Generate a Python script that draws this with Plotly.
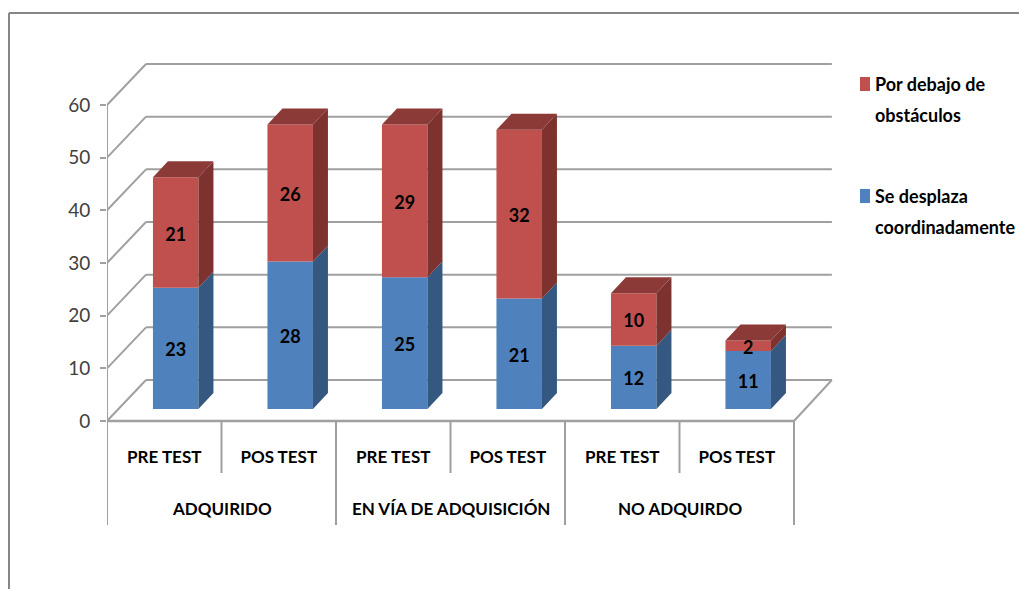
import plotly.graph_objects as go

# Werte
grupos = ["ADQUIRIDO", "EN VÍA DE ADQUISICIÓN", "NO ADQUIRDO"]
pruebas = ["PRE TEST", "POS TEST", "PRE TEST", "POS TEST", "PRE TEST", "POS TEST"]
series = ["Por debajo de<br>obstáculos", "Se desplaza<br>coordinadamente"]
desplaza = [23, 28, 25, 21, 12, 11]
debajo = [21, 26, 29, 32, 10, 2]
y_ticks = [0, 10, 20, 30, 40, 50, 60]

# Pixel-Geometrie, die Seite hat 8 px Rand (body margin)
OFF = 8
W, H = 1027 - OFF, 589 - OFF
X0, Y0 = 107 - OFF, 421 - OFF  # Ursprung der vorderen Achse
PX_X, PX_Y = 114.5, 5.267      # Pixel pro Kategorie / pro Einheit

# 3D-Versatz in Achseneinheiten
WALL_X, WALL_Y = 39 / PX_X, 41 / PX_Y
BAR_X, BAR_Y = 15 / PX_X, 16 / PX_Y
BASE = 12 / PX_Y
WIDTH = 45.5 / PX_X
SHIFT = 0.6
LABEL_DROP = 3.5 / PX_Y

BLUE, BLUE_SIDE = "#4F81BD", "#34587F"
RED, RED_SIDE, RED_TOP = "#C0504D", "#7D3230", "#8C3A38"
GRID = "#A0A0A0"
FONT = "Lato"

centers = [i + SHIFT for i in range(len(pruebas))]


def side_face(x, low, high):
    right = x + WIDTH / 2
    return ([right, right + BAR_X, right + BAR_X, right, right],
            [low, low + BAR_Y, high + BAR_Y, high, low])


def top_face(x, high):
    left, right = x - WIDTH / 2, x + WIDTH / 2
    return ([left, left + BAR_X, right + BAR_X, right, left],
            [high, high + BAR_Y, high + BAR_Y, high, high])


fig = go.Figure()

# Vorderseiten
fig.add_trace(go.Bar(x=centers, y=desplaza, base=[BASE] * 6, width=WIDTH, marker_color=BLUE,
                     marker_line_width=0, name="Se desplaza coordinadamente",
                     showlegend=False, hoverinfo="skip"))
fig.add_trace(go.Bar(x=centers, y=debajo, base=[BASE + d for d in desplaza], width=WIDTH, marker_color=RED,
                     marker_line_width=0, name="Por debajo de obstáculos",
                     showlegend=False, hoverinfo="skip"))

# Seiten- und Deckflächen
for x, a, b in zip(centers, desplaza, debajo):
    sx, sy = side_face(x, BASE, BASE + a)
    fig.add_trace(go.Scatter(x=sx, y=sy, mode="lines", fill="toself", fillcolor=BLUE_SIDE,
                             line_width=0, showlegend=False, hoverinfo="skip"))
    sx, sy = side_face(x, BASE + a, BASE + a + b)
    fig.add_trace(go.Scatter(x=sx, y=sy, mode="lines", fill="toself", fillcolor=RED_SIDE,
                             line_width=0, showlegend=False, hoverinfo="skip"))
    tx, ty = top_face(x, BASE + a + b)
    fig.add_trace(go.Scatter(x=tx, y=ty, mode="lines", fill="toself", fillcolor=RED_TOP,
                             line_width=0, showlegend=False, hoverinfo="skip"))

# Datenbeschriftung
label_font = dict(family=FONT, size=18, color="black", weight="bold")
fig.add_trace(go.Scatter(x=centers, y=[BASE + a / 2 - LABEL_DROP for a in desplaza], mode="text",
                         text=[str(a) for a in desplaza], textfont=label_font,
                         textposition="middle center", showlegend=False, hoverinfo="skip"))
fig.add_trace(go.Scatter(x=centers, y=[BASE + a + b / 2 - LABEL_DROP for a, b in zip(desplaza, debajo)], mode="text",
                         text=[str(b) for b in debajo], textfont=label_font,
                         textposition="middle center", showlegend=False, hoverinfo="skip"))

shapes = []
n = len(pruebas)


def grid_line(x0, y0, x1, y1, width=2, color=GRID):
    shapes.append(dict(type="line", x0=x0, y0=y0, x1=x1, y1=y1, layer="below",
                       line=dict(color=color, width=width)))


def paper_x(px):
    return (px - X0) / (W - X0)


def paper_y(px):
    return 1 - px / H


# Gitter auf Rückwand und Seitenwand
for v in y_ticks:
    grid_line(0, v, WALL_X, v + WALL_Y)
    grid_line(WALL_X, v + WALL_Y, n + WALL_X - 0.01, v + WALL_Y)

# Boden und vordere Achsen
LOW = -104 / PX_Y
MID = -52 / PX_Y
grid_line(0, 0, n, 0, 2.5)
grid_line(n, 0, n + WALL_X - 0.01, WALL_Y)
grid_line(0, LOW, 0, y_ticks[-1])
for i in range(1, n + 1):
    grid_line(i, MID if i % 2 else LOW, i, 0)

# Rahmen des Bildes, nur links und oben sichtbar
frame = "#868686"
for fx0, fy0, fx1, fy1 in [(1, 5, W, 5), (1, 5, 1, H)]:
    shapes.append(dict(type="line", xref="paper", yref="paper",
                       x0=paper_x(fx0), x1=paper_x(fx1), y0=paper_y(fy0), y1=paper_y(fy1),
                       line=dict(color=frame, width=2)))

annotations = []
for i, g in enumerate(grupos):
    annotations.append(dict(x=2 * i + 1, y=-87 / PX_Y, text=g, showarrow=False, xanchor="center",
                            font=dict(family=FONT, size=17, color="black", weight="bold")))

# Legende von Hand: Quadrat auf Höhe der ersten Zeile, Zeilenabstand wie im Original
for name, color, top in zip(series, [RED, BLUE], [64, 176]):
    shapes.append(dict(type="rect", xref="paper", yref="paper",
                       x0=paper_x(852), x1=paper_x(862), y0=paper_y(top + 5), y1=paper_y(top + 19),
                       fillcolor=color, line_width=0))
    annotations.append(dict(xref="paper", yref="paper", x=paper_x(866), y=paper_y(top), xanchor="left",
                            yanchor="top", align="left", showarrow=False, borderpad=0,
                            text=f'<span style="font-size:18px">{name}</span>',
                            font=dict(family=FONT, size=24, color="black", weight="bold")))

fig.update_layout(
    width=W, height=H,
    margin=dict(l=X0, r=0, t=0, b=0),
    paper_bgcolor="white", plot_bgcolor="white",
    barmode="overlay",
    shapes=shapes, annotations=annotations,
    xaxis=dict(range=[0, (W - X0) / PX_X], tickmode="array",
               tickvals=[i + 0.5 for i in range(n)], ticktext=pruebas, tickangle=0,
               showgrid=False, zeroline=False, showline=False, ticks="",
               anchor="free", position=(H - Y0) / H, ticklabelstandoff=24,
               tickfont=dict(family=FONT, size=17, color="black", weight="bold")),
    yaxis=dict(range=[-(H - Y0) / PX_Y, Y0 / PX_Y], tickmode="array", tickvals=y_ticks,
               showgrid=False, zeroline=False, showline=False,
               ticks="outside", ticklen=6, tickwidth=2, tickcolor=GRID, ticklabelstandoff=6,
               tickfont=dict(family=FONT, size=19, color="#404040")),
)

fig.write_html("out.html")
